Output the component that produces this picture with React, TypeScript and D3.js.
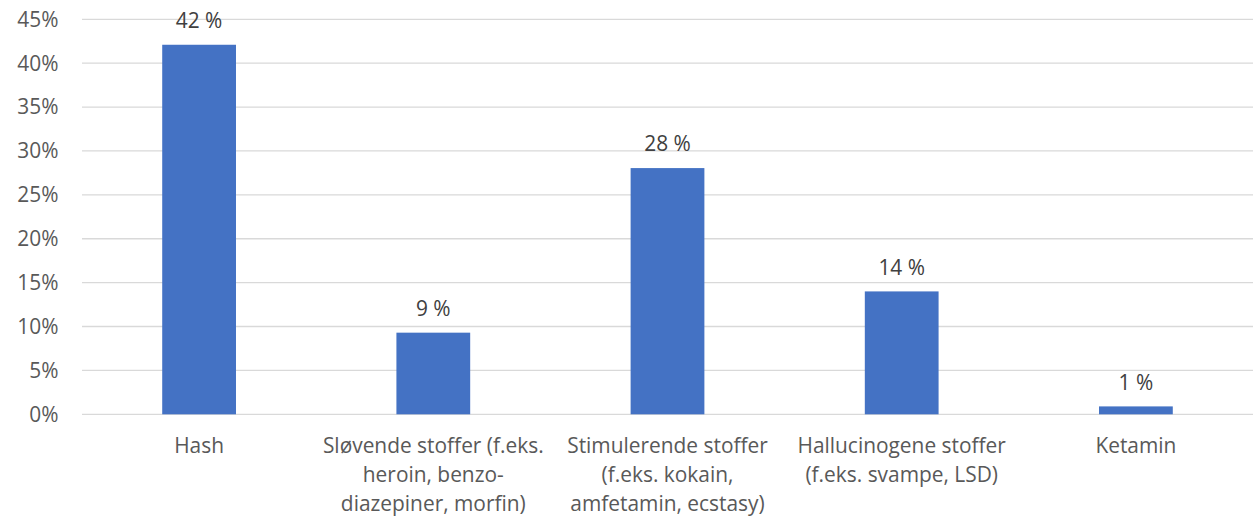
import React from "react";
import * as d3 from "d3";

const categories = [
  "Hash",
  "Sløvende stoffer (f.eks. heroin, benzo-diazepiner, morfin)",
  "Stimulerende stoffer (f.eks. kokain, amfetamin, ecstasy)",
  "Hallucinogene stoffer (f.eks. svampe, LSD)",
  "Ketamin",
];
const categoryLines = [
  ["Hash"],
  ["Sløvende stoffer (f.eks.", "heroin, benzo-", "diazepiner, morfin)"],
  ["Stimulerende stoffer", "(f.eks. kokain,", "amfetamin, ecstasy)"],
  ["Hallucinogene stoffer", "(f.eks. svampe, LSD)"],
  ["Ketamin"],
];
const values = [42.1, 9.3, 28.05, 14.0, 0.9];
const yTicks = [0, 5, 10, 15, 20, 25, 30, 35, 40, 45];

const W = 1256;
const H = 517;
const left = 82;
const right = 1253;
const top = 19.3;
const bottom = 414.3;
const FONT = "'Open Sans', sans-serif";
const TEXT = "#595959";
const FS = 20.9;

export default function App() {
  const x = d3.scaleBand<number>().domain(d3.range(categories.length)).range([left, right]).padding(0);
  const y = d3.scaleLinear().domain([0, 45]).range([bottom, top]);
  const bw = x.bandwidth() * 0.315;

  return (
    <svg
      width={W}
      height={H}
      style={{ position: "absolute", left: 0, top: 0, background: "#fff" }}
      fontFamily={FONT}
    >
      {yTicks.map((t) => (
        <g key={t}>
          <line x1={left} x2={right} y1={y(t)} y2={y(t)} stroke="#d9d9d9" strokeWidth={1.3} />
          <text x={58.5} y={y(t)} dy="0.35em" textAnchor="end" fontSize={FS} fill={TEXT}>
            {t}%
          </text>
        </g>
      ))}
      {values.map((v, i) => {
        const cx = (x(i) as number) + x.bandwidth() / 2;
        return (
          <g key={i}>
            <rect x={cx - bw / 2} y={y(v)} width={bw} height={y(0) - y(v)} fill="#4472C4" />
            <text x={cx} y={y(v) - 24} dy="0.35em" textAnchor="middle" fontSize={FS} fill="#404040">
              {Math.round(v)} %
            </text>
            {categoryLines[i].map((ln, j) => (
              <text
                key={j}
                x={cx}
                y={445.7 + j * 28.8}
                dy="0.35em"
                textAnchor="middle"
                fontSize={FS}
                fill={TEXT}
              >
                {ln}
              </text>
            ))}
          </g>
        );
      })}
    </svg>
  );
}
